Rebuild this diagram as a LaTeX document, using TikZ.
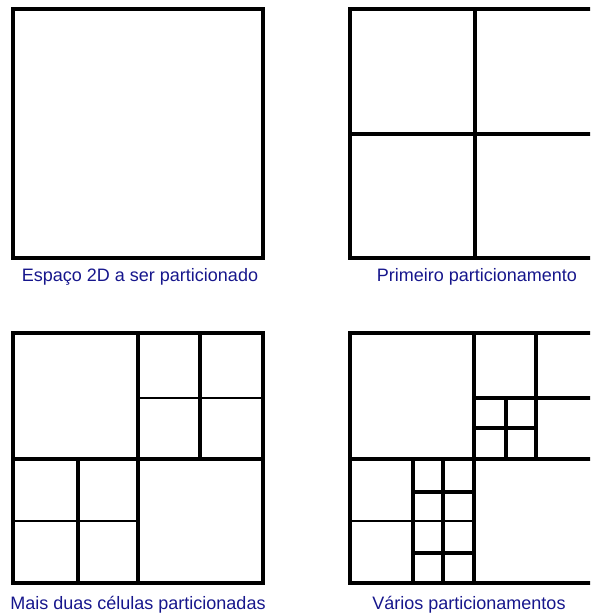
\documentclass[tikz,border=0pt]{standalone}
\usepackage{fontspec}
\setmainfont{Liberation Sans}
\definecolor{lbl}{RGB}{22,22,140}
\begin{document}
\begin{tikzpicture}[x=1pt,y=-1pt,
  grid/.style={line width=3.1pt,line cap=rect,black},
  thin grid/.style={line width=2.6pt,line cap=rect,black},
  caption/.style={text=lbl,font=\fontsize{18}{21}\selectfont,inner sep=0pt}]
\useasboundingbox (0,0) rectangle (590,616);
\begin{scope}
\clip (0,0) rectangle (590,616);
% square 1
\draw[grid] (13,9) rectangle (263,258);
\node[caption] (c1) at (140,277) {Espaço 2D a ser particionado};
% square 2
\draw[grid] (350,9) rectangle (600,258);
\draw[grid] (475,9) -- (475,258);
\draw[grid] (350,134) -- (600,134);
\node[caption] (c2) at (477,277) {Primeiro particionamento};
% square 3
\draw[grid] (13,333) rectangle (263,583);
\draw[grid] (138,333) -- (138,583);
\draw[grid] (13,459) -- (263,459);
\draw[grid] (200,333) -- (200,459);
\draw[thin grid] (138,398) -- (263,398);
\draw[grid] (78,459) -- (78,583);
\draw[thin grid] (13,521) -- (138,521);
\node[caption] (c3) at (138,605) {Mais duas células particionadas};
% square 4
\draw[grid] (350,333) rectangle (600,583);
\draw[grid] (474,333) -- (474,583);
\draw[grid] (350,459) -- (600,459);
\draw[grid] (536,333) -- (536,459);
\draw[grid] (474,398) -- (600,398);
\draw[grid] (506,398) -- (506,459);
\draw[grid] (474,428) -- (536,428);
\draw[grid] (413,459) -- (413,583);
\draw[thin grid] (350,521) -- (474,521);
\draw[grid] (443,459) -- (443,583);
\draw[grid] (413,492) -- (474,492);
\draw[grid] (413,553) -- (474,553);
\node[caption] (c4) at (469,605) {Vários particionamentos};
\end{scope}
\end{tikzpicture}
\end{document}
